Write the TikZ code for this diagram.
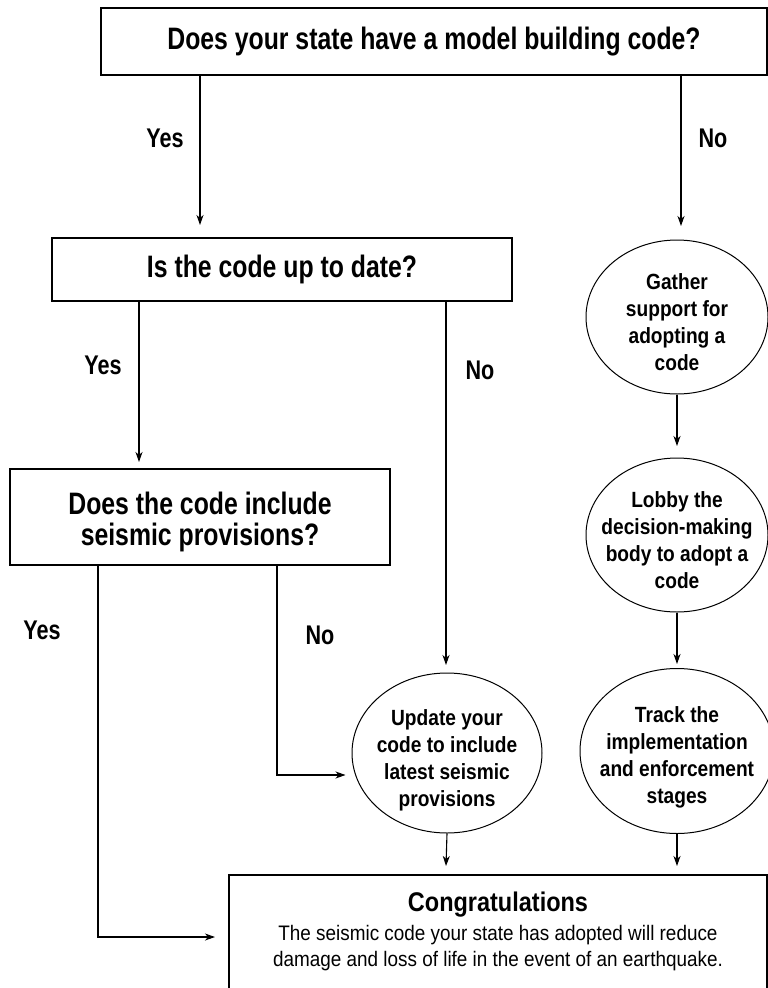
\documentclass[tikz,border=0pt]{standalone}
\usepackage{fontspec}
\setmainfont{Liberation Sans}[FakeStretch=0.8]
\newfontfamily\cnA{Liberation Sans}[FakeStretch=0.8]
\newfontfamily\cnB{Liberation Sans}[FakeStretch=0.87]
\newfontfamily\cnC{Liberation Sans}[FakeStretch=0.9]
\usetikzlibrary{arrows.meta,shapes.geometric}
\begin{document}
\begin{tikzpicture}[x=1pt,y=-1pt,
  qbox/.style={draw, line width=1.4pt, rectangle, inner sep=0pt},
  qtext/.style={align=center, inner sep=0pt, font=\cnA\fontsize{31}{31}\selectfont\bfseries},
  oval/.style={draw, line width=1pt, ellipse, inner sep=0pt},
  otext/.style={align=center, inner sep=0pt, font=\cnB\fontsize{22}{27}\selectfont\bfseries},
  lbl/.style={font=\cnA\fontsize{27}{30}\selectfont\bfseries},
  conn/.style={line width=1.1pt, -{Stealth[length=10pt,width=7pt,inset=3pt]}}]
\useasboundingbox (0,0) rectangle (768,988);
% boxes
\node[qbox, minimum width=666pt, minimum height=67pt] (q1) at (434,41.5) {};
\node[qtext] (q1t) at (434,41.5) {Does your state have a model building code?};
\node[qbox, minimum width=460pt, minimum height=63pt] (q2) at (282,269.5) {};
\node[qtext] (q2t) at (282,269.5) {Is the code up to date?};
\node[qbox, minimum width=380pt, minimum height=96pt] (q3) at (200,517) {};
\node[qtext] (q3t) at (200,522) {Does the code include\\seismic provisions?};
% ellipses
\node[oval, minimum width=182pt, minimum height=154pt] (g) at (677,317) {};
\node[otext] (gt) at (677,322) {Gather\\support for\\adopting a\\code};
\node[oval, minimum width=182pt, minimum height=154pt] (l) at (677,535) {};
\node[otext] (lt) at (677,540) {Lobby the\\decision-making\\body to adopt a\\code};
\node[oval, minimum width=194pt, minimum height=165pt] (t) at (677,751) {};
\node[otext] (tt) at (677,757) {Track the\\implementation\\and enforcement\\stages};
\node[oval, minimum width=190pt, minimum height=160pt] (u) at (447,753) {};
\node[otext] (ut) at (447,760) {Update your\\code to include\\latest seismic\\provisions};
% final box
\draw[line width=1.4pt] (767,992) -- (767,875) -- (229,875) -- (229,992);
\coordinate (c) at (229,875);
\node[font=\cnB\fontsize{27}{30}\selectfont\bfseries] (ct) at (498,905) {Congratulations};
\node[align=center, font=\cnC\fontsize{21}{26}\selectfont] (cb) at (498,948) {The seismic code your state has adopted will reduce\\damage and loss of life in the event of an earthquake.};
% labels
\node[lbl] (y1) at (165,138) {Yes};
\node[lbl] (n1) at (713,138) {No};
\node[lbl] (y2) at (103,365) {Yes};
\node[lbl] (n2) at (480,370) {No};
\node[lbl] (y3) at (42,630) {Yes};
\node[lbl] (n3) at (320,635) {No};
% connectors
\draw[conn] (q1.south -| 200,0) -- (200,225);
\draw[conn] (q1.south -| 681,0) -- (681,226);
\draw[conn] (q2.south -| 139,0) -- (139,462);
\draw[conn] (q2.south -| 446,0) -- (446,665);
\draw[conn] (g.south) -- (677,446);
\draw[conn] (l.south) -- (677,664);
\draw[conn] (u.south) -- (446,866);
\draw[conn] (t.south) -- (677,866);
\coordinate (b1) at (98,937);
\coordinate (b2) at (277,775);
\coordinate (e1) at (215,937);
\draw[conn] (q3.south -| b1) -- (b1) -- (e1);
\draw[conn] (q3.south -| b2) -- (b2) -- ([xshift=-6pt]u.west |- b2);
\end{tikzpicture}
\end{document}
